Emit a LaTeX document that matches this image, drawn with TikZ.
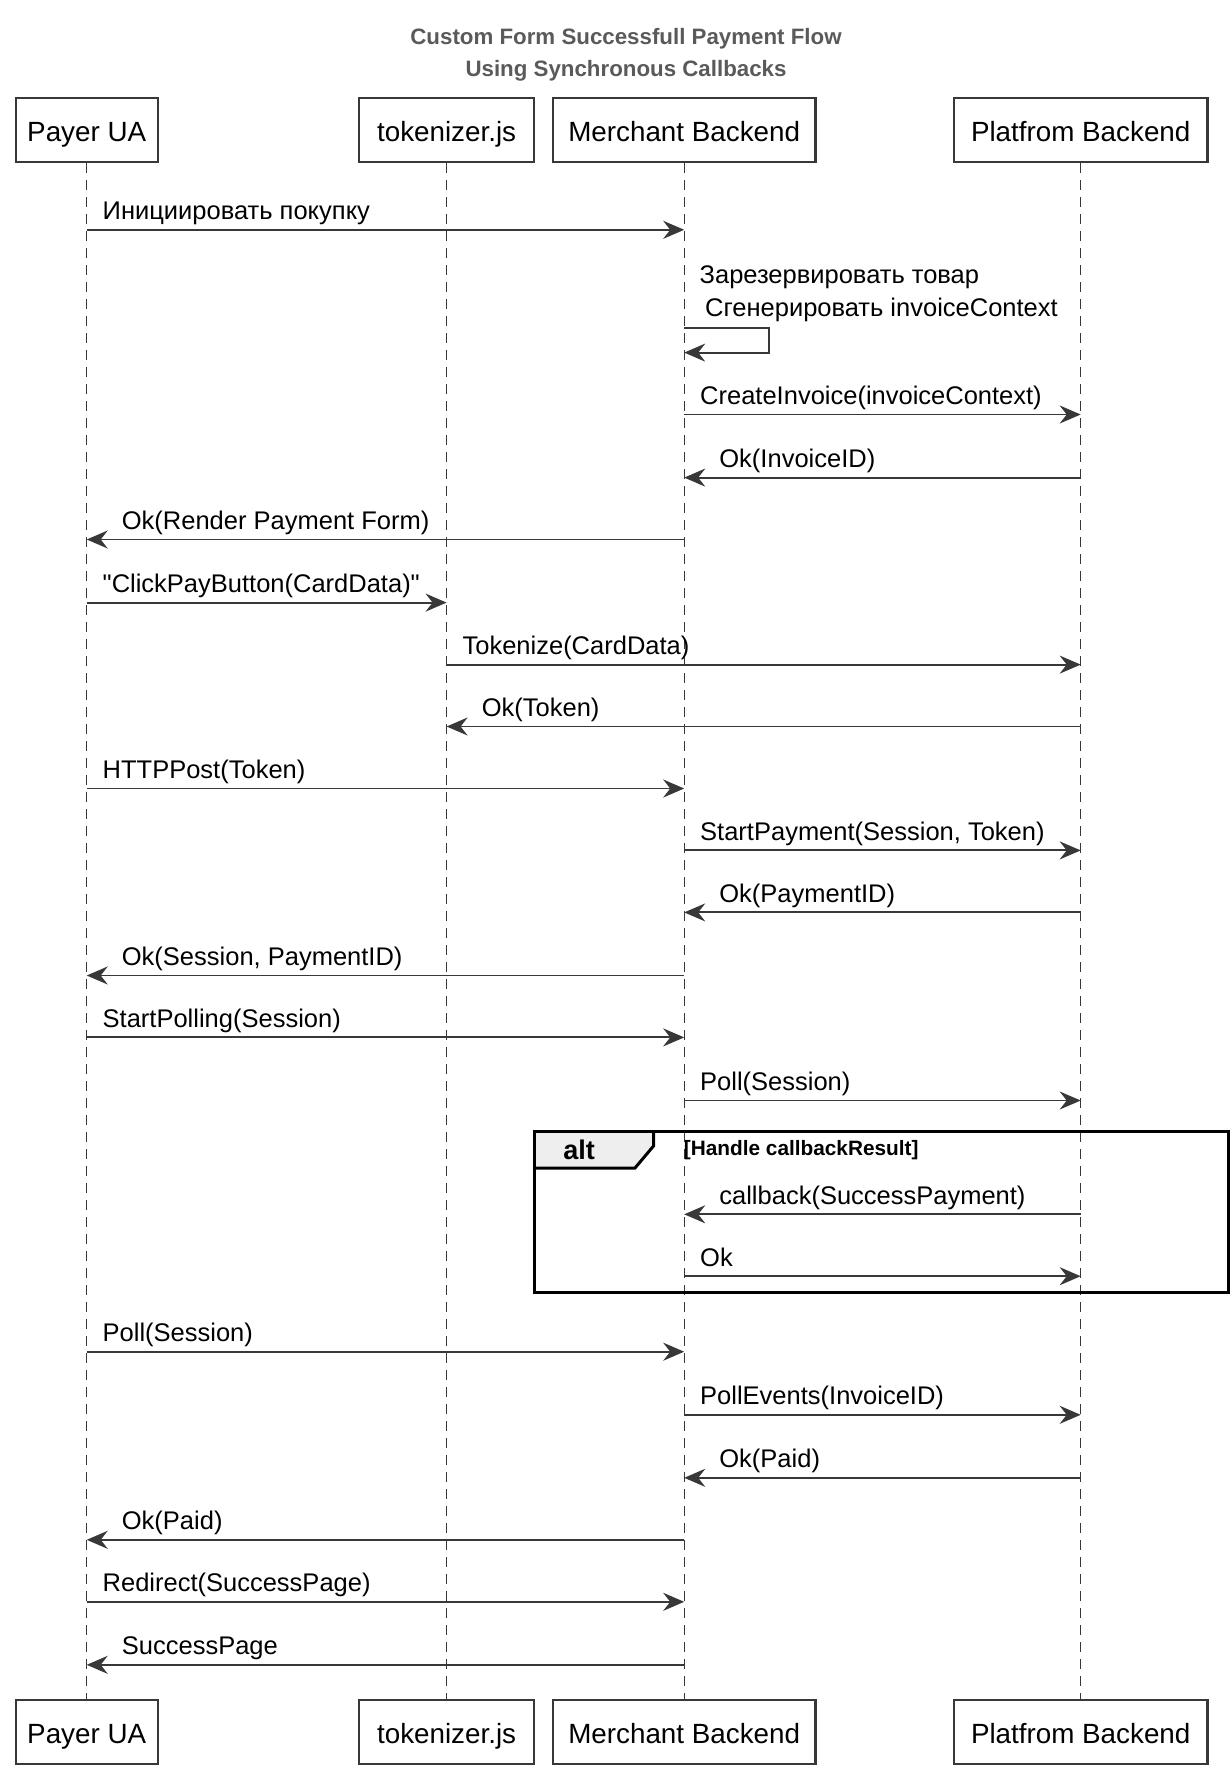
\documentclass[tikz,border=0pt]{standalone}
\usepackage{fontspec}
\setmainfont{Liberation Sans}
\newfontfamily\plainf{Liberation Sans}
\usetikzlibrary{arrows.meta,calc}
\definecolor{ln}{HTML}{383838}
\definecolor{ttl}{HTML}{5A5A5A}
\definecolor{tabfill}{HTML}{EEEEEE}
\tikzset{
  part/.style={draw=ln, line width=2.4pt, fill=white, minimum height=64pt, inner xsep=0pt, inner ysep=0pt,
    text height=25pt, text depth=2pt, font=\fontsize{27.8}{32}\selectfont},
  lifeln/.style={draw=ln, line width=1.3pt, dash pattern=on 10pt off 7pt},
  msg/.style={draw=ln, line width=1.9pt, -{Stealth[length=21pt,width=18pt,inset=7pt]}},
  lbl/.style={font=\fontsize{25.5}{30}\selectfont, inner sep=0pt, anchor=base west},
  ttlstyle/.style={font=\fontsize{22.3}{32.5}\selectfont\bfseries, text=ttl, align=center, inner sep=0pt},
}
\newcommand\msgR[4]{%
  \path (0,#3) coordinate (tmp);
  \draw[msg] (#1 |- tmp) -- (#2 |- tmp);
  \node[lbl] at ($(#1 |- tmp)+(15.8,-10)$) {#4};
}
\newcommand\msgL[4]{%
  \path (0,#3) coordinate (tmp);
  \draw[msg] (#1 |- tmp) -- (#2 |- tmp);
  \node[lbl] at ($(#2 |- tmp)+(35,-10)$) {#4};
}
\begin{document}
\begin{tikzpicture}[x=1pt,y=-1pt]
\useasboundingbox (0,0) rectangle (1230,1766);
% title
\node[ttlstyle] (title) at (626,55) {Custom Form Successfull Payment Flow\\Using Synchronous Callbacks};
% participants top
\node[part, minimum width=142pt] (pP) at (86.7,130) {Payer UA};
\node[part, minimum width=175pt] (pT) at (446.6,130) {tokenizer.js};
\node[part, minimum width=262.5pt] (pM) at (684.2,130) {Merchant Backend};
\node[part, minimum width=253.5pt] (pF) at (1080.7,130) {Platfrom Backend};
% participants bottom
\node[part, minimum width=142pt] (bP) at (86.7,1732) {Payer UA};
\node[part, minimum width=175pt] (bT) at (446.6,1732) {tokenizer.js};
\node[part, minimum width=262.5pt] (bM) at (684.2,1732) {Merchant Backend};
\node[part, minimum width=253.5pt] (bF) at (1080.7,1732) {Platfrom Backend};
% lifelines
\foreach \a/\b in {pP/bP,pT/bT,pM/bM,pF/bF}{
  \draw[lifeln] (\a.south) -- (\b.north);
}
% alt frame
\coordinate (altTL) at (534,1131);
\coordinate (altBR) at (1228,1292);
\fill[tabfill] (534,1131) -- (653.5,1131) -- (653.5,1146) -- (635,1168) -- (534,1168) -- cycle;
\draw[line width=3pt, black] (534,1168) -- (635,1168) -- (653.5,1146) -- (653.5,1131);
\draw[line width=3pt, black] (altTL) rectangle (altBR);
\node[font=\fontsize{27}{30}\selectfont\bfseries, inner sep=0pt] (altlbl) at (579,1150) {alt};
\node[font=\fontsize{20.8}{24}\selectfont\bfseries, inner sep=0pt, anchor=west] (altcond) at (683.7,1150) {[Handle callbackResult]};
% messages
\msgR{pP}{pM}{229.8}{Инициировать покупку}
% self message
\node[lbl] (self1) at (699.5,283) {Зарезервировать товар};
\node[lbl] (self2) at (705,316) {Сгенерировать invoiceContext};
\path (0,327.8) coordinate (s1) (0,352.6) coordinate (s2);
\draw[msg] (pM |- s1) -- (769.3,327.8) -- (769.3,352.6) -- (pM |- s2);
\msgR{pM}{pF}{414.5}{CreateInvoice(invoiceContext)}
\msgL{pF}{pM}{477.6}{Ok(InvoiceID)}
\msgL{pM}{pP}{539.5}{Ok(Render Payment Form)}
\msgR{pP}{pT}{602.6}{\plainf"ClickPayButton(CardData)"}
\msgR{pT}{pF}{664.6}{Tokenize(CardData)}
\msgL{pF}{pT}{726.5}{Ok(Token)}
\msgR{pP}{pM}{788.5}{HTTPPost(Token)}
\msgR{pM}{pF}{850.4}{StartPayment(Session, Token)}
\msgL{pF}{pM}{912.4}{Ok(PaymentID)}
\msgL{pM}{pP}{975.5}{Ok(Session, PaymentID)}
\msgR{pP}{pM}{1037.4}{StartPolling(Session)}
\msgR{pM}{pF}{1100.5}{Poll(Session)}
\msgL{pF}{pM}{1214.3}{callback(SuccessPayment)}
\msgR{pM}{pF}{1276.2}{Ok}
\msgR{pP}{pM}{1351.7}{Poll(Session)}
\msgR{pM}{pF}{1414.8}{PollEvents(InvoiceID)}
\msgL{pF}{pM}{1477.8}{Ok(Paid)}
\msgL{pM}{pP}{1539.8}{Ok(Paid)}
\msgR{pP}{pM}{1601.8}{Redirect(SuccessPage)}
\msgL{pM}{pP}{1664.8}{SuccessPage}
\end{tikzpicture}
\end{document}
